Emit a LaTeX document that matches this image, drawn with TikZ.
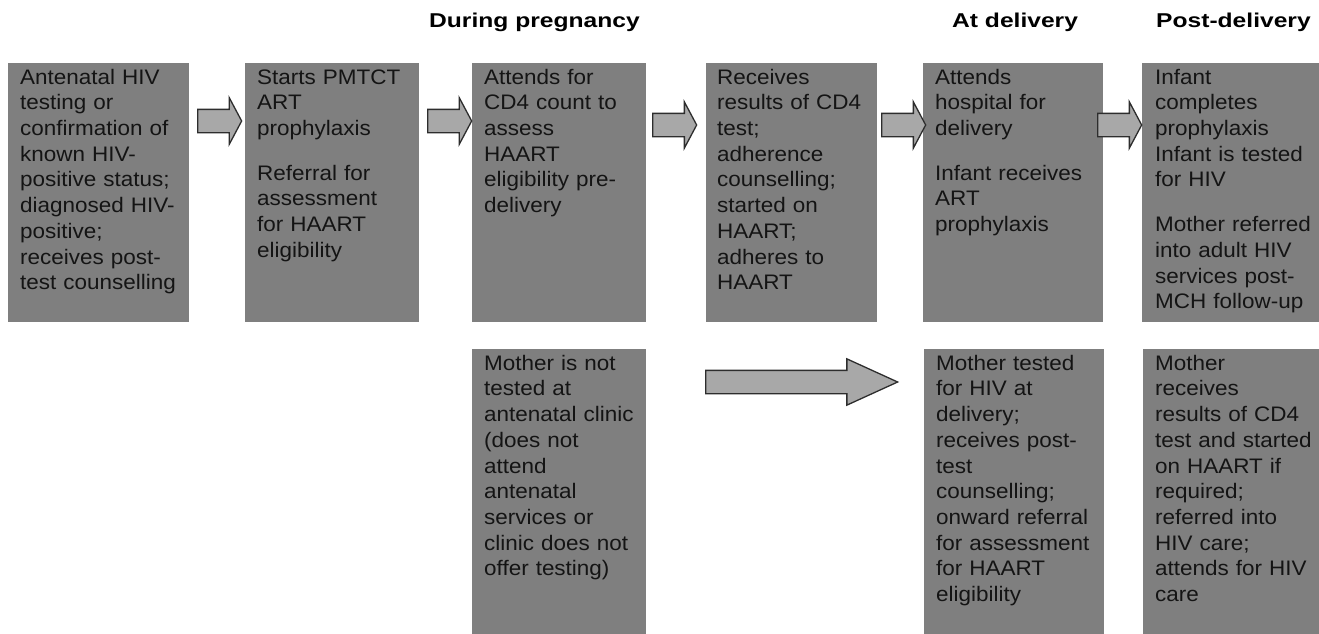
\documentclass[tikz,border=0pt]{standalone}
\usepackage{fontspec}
\setmainfont{Liberation Sans}
\newfontfamily\boxfont[FakeStretch=1.07]{Liberation Sans}
\newfontfamily\headfont[FakeStretch=1.23]{Liberation Sans}
\usetikzlibrary{shapes.arrows}
\definecolor{panelgray}{RGB}{127,127,127}
\definecolor{arrowgray}{RGB}{168,168,168}
\definecolor{arrowline}{RGB}{45,45,45}
\definecolor{inkgray}{RGB}{20,20,20}
\tikzset{
	panel/.style 2 args={fill=panelgray, anchor=north west, inner sep=0pt,
		minimum width=#1, minimum height=#2},
	paneltext/.style={anchor=north west, inner sep=0pt, text width=175pt, align=left,
		text height=21pt, text=inkgray, font=\boxfont\fontsize{21}{25.7}\selectfont},
	heading/.style={anchor=base west, inner sep=0pt, text=black,
		font=\headfont\bfseries\fontsize{20}{24}\selectfont},
	flowarrow/.style={single arrow, draw=arrowline, fill=arrowgray, line width=1.3pt,
		anchor=tail, inner xsep=0pt, inner ysep=11pt, minimum height=44pt, minimum width=45pt,
		single arrow head extend=11.5pt, single arrow tip angle=124},
	longarrow/.style={flowarrow, minimum height=192pt, single arrow tip angle=49}
}

\begin{document}
\begin{tikzpicture}[x=1pt, y=-1pt]
	\useasboundingbox (0,0) rectangle (1319,634);
	\pgfmathsetmacro\rowa{63};
	\pgfmathsetmacro\rowb{349};

	% headings
	\node[heading] (hpreg) at (429,28) {During pregnancy};
	\node[heading] (hdel) at (952,28) {At delivery};
	\node[heading] (hpost) at (1156,28) {Post-delivery};

	% top row
	\node[panel={181pt}{259pt}] (b1) at (8,\rowa) {};
	\node[panel={174pt}{259pt}] (b2) at (245,\rowa) {};
	\node[panel={174pt}{259pt}] (b3) at (472,\rowa) {};
	\node[panel={171pt}{259pt}] (b4) at (706,\rowa) {};
	\node[panel={180pt}{259pt}] (b5) at (923,\rowa) {};
	\node[panel={177pt}{259pt}] (b6) at (1142,\rowa) {};

	% bottom row
	\node[panel={174pt}{285pt}] (c3) at (472,\rowb) {};
	\node[panel={180pt}{285pt}] (c5) at (924,\rowb) {};
	\node[panel={176pt}{285pt}] (c6) at (1143,\rowb) {};

	\node[paneltext] (t1) at ([xshift=12pt]b1.north west) {Antenatal HIV\\testing or\\confirmation of\\known HIV-\\positive status;\\diagnosed HIV-\\positive;\\receives post-\\test counselling};
	\node[paneltext] (t2) at ([xshift=12pt]b2.north west) {Starts PMTCT\\ART\\prophylaxis\\[19pt]Referral for\\assessment\\for HAART\\eligibility};
	\node[paneltext] (t3) at ([xshift=12pt]b3.north west) {Attends for\\CD4 count to\\assess\\HAART\\eligibility pre-\\delivery};
	\node[paneltext] (t4) at ([xshift=11pt]b4.north west) {Receives\\results of CD4\\test;\\adherence\\counselling;\\started on\\HAART;\\adheres to\\HAART};
	\node[paneltext] (t5) at ([xshift=12pt]b5.north west) {Attends\\hospital for\\delivery\\[19pt]Infant receives\\ART\\prophylaxis};
	\node[paneltext] (t6) at ([xshift=13pt]b6.north west) {Infant\\completes\\prophylaxis\\Infant is tested\\for HIV\\[19pt]Mother referred\\into adult HIV\\services post-\\MCH follow-up};

	\node[paneltext] (u3) at ([xshift=12pt]c3.north west) {Mother is not\\tested at\\antenatal clinic\\(does not\\attend\\antenatal\\services or\\clinic does not\\offer testing)};
	\node[paneltext] (u5) at ([xshift=12pt]c5.north west) {Mother tested\\for HIV at\\delivery;\\receives post-\\test\\counselling;\\onward referral\\for assessment\\for HAART\\eligibility};
	\node[paneltext] (u6) at ([xshift=12pt]c6.north west) {Mother\\receives\\results of CD4\\test and started\\on HAART if\\required;\\referred into\\HIV care;\\attends for HIV\\care};

	% arrows
	\node[flowarrow] (a1) at (197,121) {};
	\node[flowarrow] (a2) at (427,121) {};
	\node[flowarrow] (a3) at (652,125) {};
	\node[flowarrow] (a4) at (881,125) {};
	\node[flowarrow] (a5) at (1097,125) {};
	\node[longarrow] (a6) at (705,382) {};
\end{tikzpicture}
\end{document}
